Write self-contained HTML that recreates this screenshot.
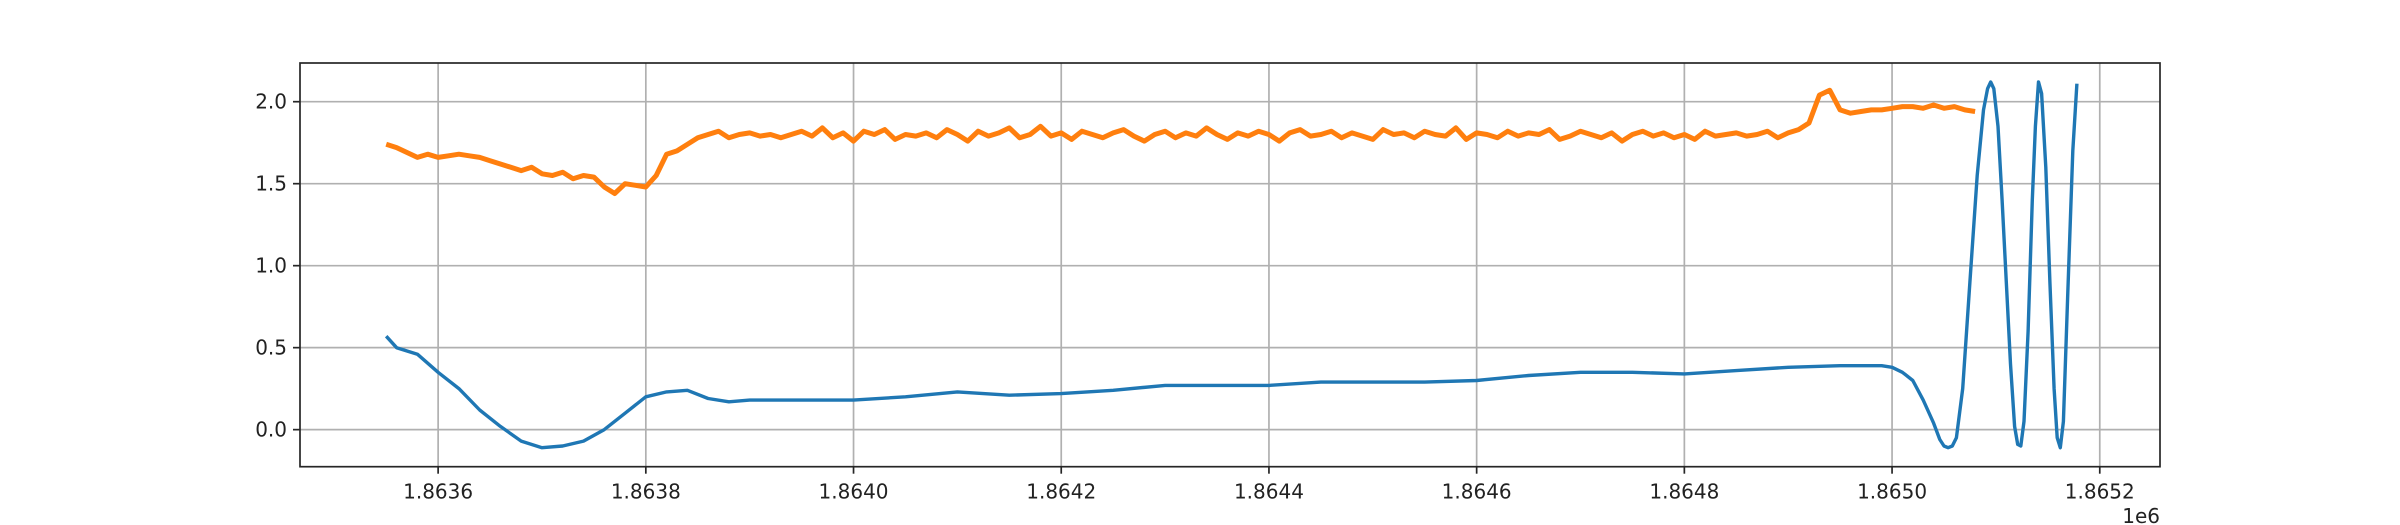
<!DOCTYPE html>
<html><head><meta charset="utf-8"><style>
html,body{margin:0;padding:0;background:#fff;}
svg{display:block;font-family:"DejaVu Sans","Liberation Sans",sans-serif;}
</style></head><body>
<svg id="chart" width="2400" height="525" viewBox="0 0 2400 525" xmlns="http://www.w3.org/2000/svg">
<rect x="0" y="0" width="2400" height="525" fill="#fff"/>
<g id="grid"></g>
<g id="series"></g>
<rect x="300" y="63" width="1860" height="403.7" fill="none" stroke="#262626" stroke-width="1.7"/>
<g id="ticks"></g>
<text x="2160" y="523" text-anchor="end" font-size="20" fill="#222">1e6</text>
</svg>
<script>
const xTicks = [1863600, 1863800, 1864000, 1864200, 1864400, 1864600, 1864800, 1865000, 1865200];
const xTickLabels = ["1.8636","1.8638","1.8640","1.8642","1.8644","1.8646","1.8648","1.8650","1.8652"];
const yTicks = [0, 0.5, 1.0, 1.5, 2.0];
const yTickLabels = ["0.0","0.5","1.0","1.5","2.0"];

const blueX = [1863550,1863560,1863580,1863600,1863620,1863640,1863660,1863680,1863700,1863720,1863740,1863760,1863780,1863800,1863820,1863840,1863860,1863880,1863900,1863950,1864000,1864050,1864100,1864150,1864200,1864250,1864300,1864350,1864400,1864450,1864500,1864550,1864600,1864650,1864700,1864750,1864800,1864850,1864900,1864950,1864990,1865000,1865010,1865020,1865030,1865040,1865046,1865050,1865054,1865058,1865062,1865068,1865075,1865082,1865088,1865092,1865095,1865098,1865102,1865106,1865110,1865114,1865118,1865121,1865124,1865127,1865131,1865135,1865138,1865141,1865144,1865148,1865152,1865156,1865159,1865162,1865165,1865169,1865174,1865178];
const blueY = [0.57,0.50,0.46,0.35,0.25,0.12,0.02,-0.07,-0.11,-0.10,-0.07,0.00,0.10,0.20,0.23,0.24,0.19,0.17,0.18,0.18,0.18,0.20,0.23,0.21,0.22,0.24,0.27,0.27,0.27,0.29,0.29,0.29,0.30,0.33,0.35,0.35,0.34,0.36,0.38,0.39,0.39,0.38,0.35,0.30,0.18,0.04,-0.06,-0.10,-0.11,-0.10,-0.05,0.25,0.90,1.55,1.95,2.08,2.12,2.08,1.85,1.40,0.90,0.40,0.02,-0.09,-0.10,0.05,0.60,1.40,1.85,2.12,2.05,1.60,0.90,0.25,-0.05,-0.11,0.05,0.80,1.70,2.11];

const orangeStart = 1863550;
const orangeStep = 10;
const orangeY = [1.74,1.72,1.69,1.66,1.68,1.66,1.67,1.68,1.67,1.66,
1.64,1.62,1.60,1.58,1.60,1.56,1.55,1.57,1.53,1.55,
1.54,1.48,1.44,1.50,1.49,1.48,1.55,1.68,1.70,1.74,
1.78,1.80,1.82,1.78,1.80,1.81,1.79,1.80,1.78,1.80,
1.82,1.79,1.84,1.78,1.81,1.76,1.82,1.80,1.83,1.77,
1.80,1.79,1.81,1.78,1.83,1.80,1.76,1.82,1.79,1.81,
1.84,1.78,1.80,1.85,1.79,1.81,1.77,1.82,1.80,1.78,
1.81,1.83,1.79,1.76,1.80,1.82,1.78,1.81,1.79,1.84,
1.80,1.77,1.81,1.79,1.82,1.80,1.76,1.81,1.83,1.79,
1.80,1.82,1.78,1.81,1.79,1.77,1.83,1.80,1.81,1.78,
1.82,1.80,1.79,1.84,1.77,1.81,1.80,1.78,1.82,1.79,
1.81,1.80,1.83,1.77,1.79,1.82,1.80,1.78,1.81,1.76,
1.80,1.82,1.79,1.81,1.78,1.80,1.77,1.82,1.79,1.80,
1.81,1.79,1.80,1.82,1.78,
1.81,1.83,1.87,2.04,2.07,1.95,1.93,1.94,1.95,1.95,1.96,1.97,1.97,1.96,1.98,1.96,1.97,1.95,1.94];

const NS = "http://www.w3.org/2000/svg";
const X0 = 1863467, X1 = 1865258, Y0 = -0.226, Y1 = 2.236;
const L = 300, R = 2160, T = 63, B = 466.7;
function sx(v){ return L + (v - X0) / (X1 - X0) * (R - L); }
function sy(v){ return B - (v - Y0) / (Y1 - Y0) * (B - T); }
function mk(tag, attrs, parent){
  const e = document.createElementNS(NS, tag);
  for (const k in attrs) e.setAttribute(k, attrs[k]);
  parent.appendChild(e);
  return e;
}
const grid = document.getElementById('grid');
const ticks = document.getElementById('ticks');
const series = document.getElementById('series');

xTicks.forEach((t, i) => {
  const x = sx(t);
  const g = mk('line', {x1:x, x2:x, y1:T, y2:B, stroke:'#b0b0b0', 'stroke-width':1.7}, grid);
  
  
  const tk = mk('line', {x1:x, x2:x, y1:B, y2:B+7, stroke:'#262626', 'stroke-width':1.7}, ticks);
  
  
  const lb = mk('text', {x:x, y:B+32, 'text-anchor':'middle', 'font-size':20, fill:'#222'}, ticks);
  lb.textContent = xTickLabels[i];
  
  
});
yTicks.forEach((t, i) => {
  const y = sy(t);
  const g = mk('line', {x1:L, x2:R, y1:y, y2:y, stroke:'#b0b0b0', 'stroke-width':1.7}, grid);
  
  
  const tk = mk('line', {x1:L-7, x2:L, y1:y, y2:y, stroke:'#262626', 'stroke-width':1.7}, ticks);
  
  
  const lb = mk('text', {x:L-13, y:y+7, 'text-anchor':'end', 'font-size':20, fill:'#222'}, ticks);
  lb.textContent = yTickLabels[i];
  
  
});

let dB = blueX.map((v, i) => (i ? 'L' : 'M') + sx(v).toFixed(1) + ' ' + sy(blueY[i]).toFixed(1)).join(' ');
const pb = mk('path', {d:dB, fill:'none', stroke:'#1f77b4', 'stroke-width':3.4, 'stroke-linejoin':'round'}, series);



let dO = orangeY.map((v, i) => (i ? 'L' : 'M') + sx(orangeStart + i * orangeStep).toFixed(1) + ' ' + sy(v).toFixed(1)).join(' ');
const po = mk('path', {d:dO, fill:'none', stroke:'#ff7f0e', 'stroke-width':5, 'stroke-linejoin':'round'}, series);


</script>
</body></html>
